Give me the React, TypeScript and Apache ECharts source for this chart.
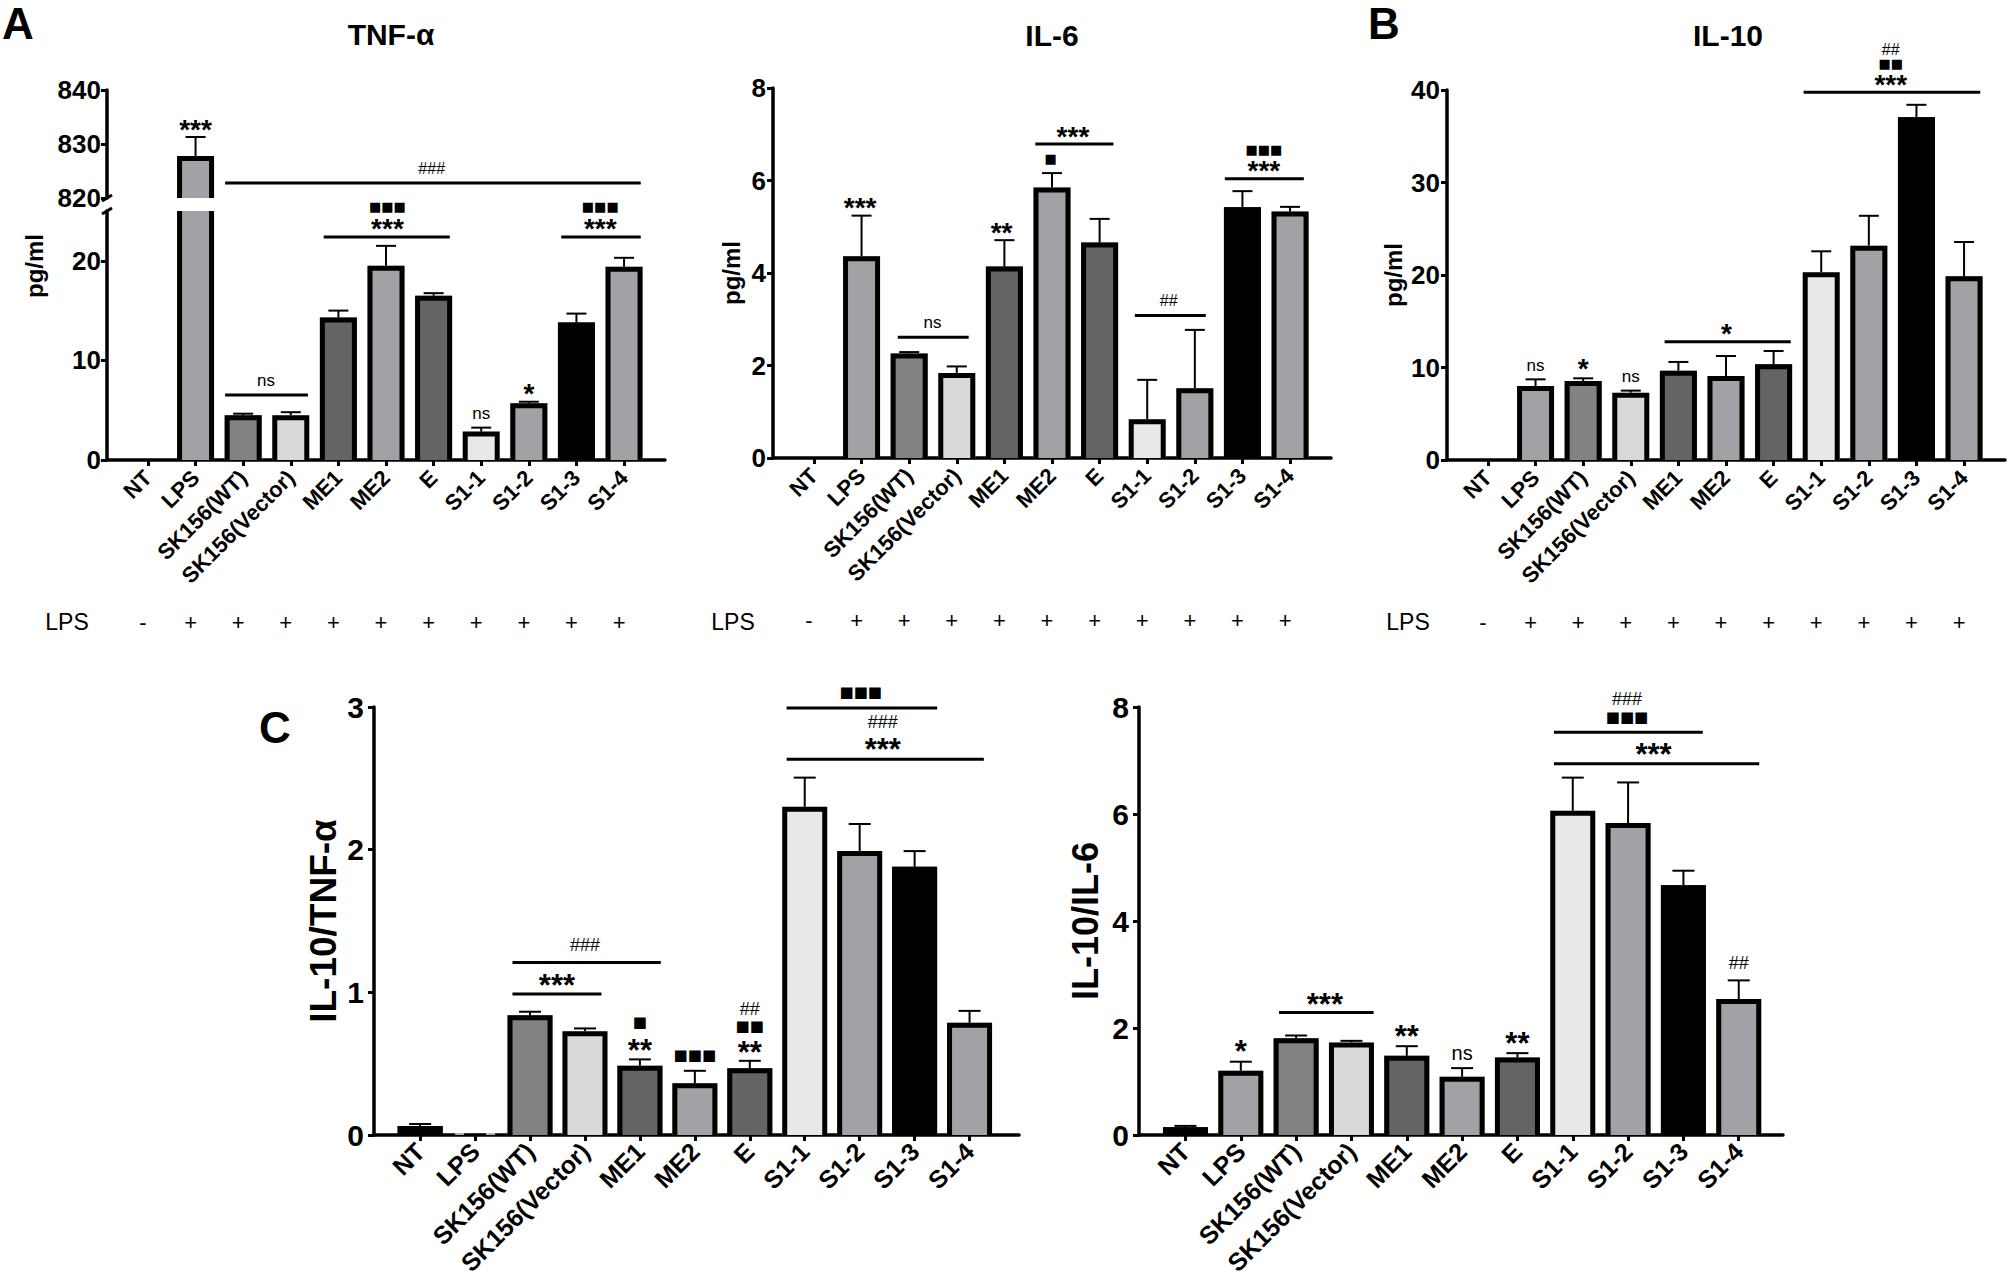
import React, { useEffect, useRef } from "react";
import * as echarts from "echarts";

// ---------------- data ----------------
const categories = ["NT", "LPS", "SK156(WT)", "SK156(Vector)", "ME1", "ME2", "E", "S1-1", "S1-2", "S1-3", "S1-4"];
const lpsSigns = ["-", "+", "+", "+", "+", "+", "+", "+", "+", "+", "+"];

const tnfMean = [0, 827.8, 4.5, 4.5, 14.3, 19.5, 16.5, 2.85, 5.7, 13.8, 19.4];
const tnfUpper = [0, 831.3, 4.65, 4.8, 15.0, 21.5, 16.75, 3.25, 5.85, 14.7, 20.3];

const il6Mean = [0, 4.36, 2.26, 1.84, 4.14, 5.85, 4.66, 0.84, 1.51, 5.42, 5.33];
const il6Upper = [0, 5.24, 2.29, 1.98, 4.71, 6.16, 5.17, 1.69, 2.77, 5.77, 5.43];

const il10Mean = [0, 8.0, 8.54, 7.28, 9.66, 9.08, 10.34, 20.3, 23.17, 37.05, 19.86];
const il10Upper = [0, 8.72, 8.83, 7.5, 10.6, 11.24, 11.78, 22.56, 26.4, 38.4, 23.57];

const ratioTnfMean = [0.063, 0.004, 0.84, 0.728, 0.486, 0.362, 0.467, 2.3, 1.99, 1.88, 0.787];
const ratioTnfUpper = [0.077, 0.005, 0.864, 0.747, 0.53, 0.45, 0.52, 2.505, 2.18, 1.99, 0.87];

const ratioIl6Mean = [0.143, 1.2, 1.81, 1.73, 1.48, 1.09, 1.45, 6.06, 5.83, 4.67, 2.54];
const ratioIl6Upper = [0.17, 1.37, 1.86, 1.76, 1.66, 1.25, 1.53, 6.68, 6.59, 4.94, 2.89];

// significance brackets: [fromCategory, toCategory, y]
const tnfLowBrackets = [[1.62, 3.36, 6.53], [3.69, 6.34, 22.4], [8.68, 10.35, 22.4]];
const tnfHighBrackets = [[1.62, 10.35, 822.8]];
const il6Brackets = [[1.76, 3.25, 2.61], [4.65, 6.29, 6.79], [6.74, 8.23, 3.08], [8.63, 10.29, 6.04]];
const il10Brackets = [[3.71, 6.36, 12.79], [6.63, 10.34, 39.75]];
const ratioTnfBrackets = [[1.68, 4.38, 1.209], [1.68, 3.3, 0.988], [6.67, 9.41, 2.993], [6.67, 10.26, 2.634]];
const ratioIl6Brackets = [[1.69, 3.4, 2.29], [6.66, 9.35, 7.53], [6.66, 10.37, 6.94]];

// significance marks: [category, y, text]
const tnfLowMarks: [number, number, string][] = [
  [2.48, 8.0, "ns"], [5.03, 23.85, "***"], [5.03, 25.5, "■■■"],
  [9.5, 23.85, "***"], [9.5, 25.5, "■■■"], [7, 4.69, "ns"], [8, 7.2, "*"],
];
const tnfHighMarks: [number, number, string][] = [[1, 833.8, "***"], [5.96, 825.5, "###"]];
const il6Marks: [number, number, string][] = [
  [0.97, 5.53, "***"], [2.49, 2.93, "ns"], [3.94, 5.0, "**"], [4.97, 6.47, "■"],
  [5.44, 7.08, "***"], [7.45, 3.4, "##"], [9.45, 6.33, "***"], [9.45, 6.67, "■■■"],
];
const il10Marks: [number, number, string][] = [
  [1, 10.2, "ns"], [2, 10.45, "*"], [3, 9.08, "ns"], [5.01, 14.23, "*"],
  [8.46, 41.2, "***"], [8.46, 42.9, "■■"], [8.46, 44.4, "##"],
];
const ratioTnfMarks: [number, number, string][] = [
  [3.0, 1.33, "###"], [2.49, 1.09, "***"], [4, 0.79, "■"], [4, 0.635, "**"],
  [5, 0.56, "■■■"], [6, 0.885, "##"], [6, 0.765, "■■"], [6, 0.62, "**"],
  [8.02, 3.105, "■■■"], [8.42, 2.895, "###"], [8.42, 2.743, "***"],
];
const ratioIl6Marks: [number, number, string][] = [
  [7.98, 8.15, "###"], [7.98, 7.82, "■■■"], [8.46, 7.23, "***"],
  [2.52, 2.56, "***"], [1, 1.68, "*"], [4, 1.96, "**"], [5, 1.54, "ns"],
  [6, 1.82, "**"], [10, 3.22, "##"],
];

// ---------------- styles ----------------
const barColors = ["#000000", "#A2A2A6", "#828282", "#D9D9D9", "#646464", "#A2A2A6", "#646464", "#E8E8E8", "#A2A2A6", "#000000", "#A2A2A6"];
const FONT = "'Liberation Sans', Arial, Helvetica, sans-serif";
const catIdx = categories.map((_, i) => i);

function barRender(w: number, bw: number) {
  return (params: any, api: any) => {
    const x = api.value(0);
    const v = api.value(1);
    const cs = params.coordSys;
    const p = api.coord([x, v]);
    const b = api.coord([x, 0]);
    const top = cs.y;
    const bottom = cs.y + cs.height;
    let yT = p[1];
    let yB = b[1];
    const topClipped = yT < top;
    yT = Math.max(yT, top);
    yB = Math.min(yB, bottom);
    const h = yB - yT;
    if (!(h > 0.2)) return null;
    const l = p[0] - w / 2;
    const r = p[0] + w / 2;
    const fill = barColors[params.dataIndex];
    if (h < bw && fill !== "#000000") {
      return { type: "rect", shape: { x: l + bw / 2, y: yB - 2, width: w - bw, height: 2 }, style: { fill: "#B0B0B0" } };
    }
    const i = bw / 2;
    const children: any[] = [{ type: "rect", shape: { x: l, y: yT, width: w, height: h }, style: { fill } }];
    if (topClipped) {
      children.push({ type: "line", shape: { x1: l + i, y1: yT, x2: l + i, y2: yB }, style: { stroke: "#000", lineWidth: bw } });
      children.push({ type: "line", shape: { x1: r - i, y1: yT, x2: r - i, y2: yB }, style: { stroke: "#000", lineWidth: bw } });
    } else {
      children.push({
        type: "polyline",
        shape: { points: [[l + i, yB], [l + i, yT + i], [r - i, yT + i], [r - i, yB]] },
        style: { stroke: "#000", lineWidth: bw, fill: "none", lineJoin: "miter" },
      });
    }
    return { type: "group", children };
  };
}

function errRender(cap: number) {
  return (params: any, api: any) => {
    const x = api.value(0);
    const m = api.value(1);
    const u = api.value(2);
    if (m === 0 && u === 0) return null;
    const cs = params.coordSys;
    const p1 = api.coord([x, m]);
    const p2 = api.coord([x, u]);
    if (p1[1] < cs.y - 0.5 || p1[1] > cs.y + cs.height + 0.5) return null;
    const st = { stroke: "#000", lineWidth: 2 };
    return {
      type: "group",
      children: [
        { type: "line", shape: { x1: p1[0], y1: p1[1], x2: p1[0], y2: p2[1] }, style: st },
        { type: "line", shape: { x1: p1[0] - cap / 2, y1: p2[1], x2: p1[0] + cap / 2, y2: p2[1] }, style: st },
      ],
    };
  };
}

function bracketRender(params: any, api: any) {
  const p1 = api.coord([api.value(0), api.value(2)]);
  const p2 = api.coord([api.value(1), api.value(2)]);
  return { type: "line", shape: { x1: p1[0], y1: p1[1], x2: p2[0], y2: p2[1] }, style: { stroke: "#000", lineWidth: 3 } };
}

function markRender(marks: [number, number, string][], big: boolean) {
  return (params: any, api: any) => {
    const t = marks[params.dataIndex][2];
    const p = api.coord([api.value(0), api.value(1)]);
    let fontSize = 16;
    let fontWeight: any = "normal";
    let fontFamily = FONT;
    let dy = 0;
    if (t.indexOf("*") >= 0) {
      fontSize = big ? 31 : 28;
      fontWeight = "bold";
      dy = 0.2 * fontSize;
    } else if (t.indexOf("■") >= 0) {
      fontSize = big ? 15 : 13;
      fontFamily = "'DejaVu Sans', sans-serif";
    } else if (t.indexOf("#") >= 0) {
      fontSize = big ? 18 : 16;
    } else {
      fontSize = big ? 20 : 17;
    }
    return {
      type: "text",
      x: p[0],
      y: p[1] + dy,
      style: { text: t, fill: "#000", fontSize, fontWeight, fontFamily, align: "center", verticalAlign: "middle" },
    };
  };
}

function xCatAxis(gridIndex: number, min: number, max: number, fontSize: number, margin: number) {
  return {
    type: "value", gridIndex, min, max, position: "bottom",
    axisLine: { show: true, onZero: false, lineStyle: { color: "#000", width: 3.5 } },
    axisTick: { show: true, length: 6, customValues: catIdx, lineStyle: { color: "#000", width: 3 } },
    axisLabel: {
      customValues: catIdx, rotate: 45, margin,
      formatter: (v: number) => categories[Math.round(v)] ?? "",
      fontSize, fontWeight: "bold", color: "#000", fontFamily: FONT,
    },
    splitLine: { show: false },
  };
}

function xLpsAxis(gridIndex: number, min: number, max: number) {
  return {
    type: "value", gridIndex, min, max, position: "bottom", offset: 149,
    axisLine: { show: false }, axisTick: { show: false },
    axisLabel: {
      customValues: catIdx, margin: 2, padding: [0, 10, 0, 0],
      formatter: (v: number) => lpsSigns[Math.round(v)] ?? "",
      fontSize: 22, color: "#000", fontFamily: FONT,
    },
    splitLine: { show: false },
  };
}

function yAx(gridIndex: number, min: number, max: number, interval: number | undefined, fontSize: number, margin: number, extra: any = {}) {
  const base: any = {
    type: "value", gridIndex, min, max,
    axisLine: { show: true, onZero: false, lineStyle: { color: "#000", width: 3.5 } },
    axisTick: { show: true, length: 6, lineStyle: { color: "#000", width: 3 } },
    axisLabel: { fontSize, fontWeight: "bold", color: "#000", margin, fontFamily: FONT },
    splitLine: { show: false },
  };
  if (interval !== undefined) base.interval = interval;
  return { ...base, ...extra, axisLabel: { ...base.axisLabel, ...(extra.axisLabel || {}) }, axisTick: { ...base.axisTick, ...(extra.axisTick || {}) } };
}

function panelSeries(xi: number, yi: number, mean: number[], upper: number[], brackets: number[][], marks: [number, number, string][], big: boolean) {
  const w = big ? 45 : 37;
  const out: any[] = [
    { type: "custom", xAxisIndex: xi, yAxisIndex: yi, renderItem: barRender(w, 5), encode: { x: 0, y: 1 }, data: mean.map((v, i) => [i, v]), z: 2, silent: true },
    { type: "custom", xAxisIndex: xi, yAxisIndex: yi, renderItem: errRender(big ? 22 : 20), encode: { x: 0, y: [1, 2] }, data: mean.map((v, i) => [i, v, upper[i]]), z: 3, silent: true },
  ];
  if (brackets.length) out.push({ type: "custom", xAxisIndex: xi, yAxisIndex: yi, renderItem: bracketRender, encode: { x: [0, 1], y: 2 }, data: brackets, z: 4, silent: true });
  if (marks.length) out.push({ type: "custom", xAxisIndex: xi, yAxisIndex: yi, renderItem: markRender(marks, big), encode: { x: 0, y: 1 }, data: marks.map((m) => [m[0], m[1]]), z: 4, silent: true });
  return out;
}

const TOP_MIN = -0.86;
const TOP_MAX = 10.86;

function buildOption() {
  const name = (text: string, gap: number, size: number) => ({
    name: text, nameLocation: "middle", nameGap: gap,
    nameTextStyle: { fontSize: size, fontWeight: "bold", color: "#000", fontFamily: FONT },
  });
  const txt = (text: string, x: number, y: number, size: number, weight = "bold", rotation = 0) => ({
    type: "text", x, y, rotation,
    style: { text, fontSize: size, fontWeight: weight, fontFamily: FONT, fill: "#000", align: "center", verticalAlign: "middle" },
  });
  return {
    animation: false,
    backgroundColor: "#fff",
    textStyle: { fontFamily: FONT },
    grid: [
      { left: 107, top: 90, width: 558, height: 108, outerBoundsMode: "none" },
      { left: 107, top: 211, width: 558, height: 249, outerBoundsMode: "none" },
      { left: 773, top: 88, width: 558, height: 370, outerBoundsMode: "none" },
      { left: 1447, top: 90, width: 558, height: 370, outerBoundsMode: "none" },
      { left: 374, top: 707, width: 645, height: 428, outerBoundsMode: "none" },
      { left: 1139, top: 707, width: 644, height: 428, outerBoundsMode: "none" },
    ],
    xAxis: [
      { type: "value", gridIndex: 0, min: TOP_MIN, max: TOP_MAX, show: false },
      xCatAxis(1, TOP_MIN, TOP_MAX, 22, 14),
      xLpsAxis(1, TOP_MIN, TOP_MAX),
      xCatAxis(2, TOP_MIN, TOP_MAX, 22, 14),
      xLpsAxis(2, TOP_MIN, TOP_MAX),
      xCatAxis(3, TOP_MIN, TOP_MAX, 22, 14),
      xLpsAxis(3, TOP_MIN, TOP_MAX),
      xCatAxis(4, -0.84, 10.9, 25, 12),
      xCatAxis(5, -0.84, 10.8, 25, 12),
    ],
    yAxis: [
      yAx(0, 820, 840, 10, 26, 6),
      yAx(1, 0, 25, undefined, 26, 6, { axisLabel: { customValues: [0, 10, 20] }, axisTick: { customValues: [0, 10, 20] } }),
      yAx(2, 0, 8, 2, 26, 7, name("pg/ml", 30, 24)),
      yAx(3, 0, 40, 10, 26, 7, name("pg/ml", 42, 24)),
      yAx(4, 0, 3, 1, 30, 10, name("IL-10/TNF-α", 32, 37)),
      yAx(5, 0, 8, 2, 30, 10, name("IL-10/IL-6", 36, 36)),
    ],
    series: [
      ...panelSeries(0, 0, tnfMean, tnfUpper, tnfHighBrackets, tnfHighMarks, false),
      ...panelSeries(1, 1, tnfMean, tnfUpper, tnfLowBrackets, tnfLowMarks, false),
      ...panelSeries(3, 2, il6Mean, il6Upper, il6Brackets, il6Marks, false),
      ...panelSeries(5, 3, il10Mean, il10Upper, il10Brackets, il10Marks, false),
      ...panelSeries(7, 4, ratioTnfMean, ratioTnfUpper, ratioTnfBrackets, ratioTnfMarks, true),
      ...panelSeries(8, 5, ratioIl6Mean, ratioIl6Upper, ratioIl6Brackets, ratioIl6Marks, true),
    ],
    graphic: [
      txt("A", 18, 23, 44),
      txt("B", 1384, 23, 44),
      txt("C", 275, 727, 44),
      txt("TNF-α", 391, 34, 30),
      txt("IL-6", 1052, 35, 30),
      txt("IL-10", 1728, 35, 30),
      txt("pg/ml", 34, 266, 24, "bold", Math.PI / 2),
      txt("LPS", 67, 622, 23, "normal"),
      txt("LPS", 733, 622, 23, "normal"),
      txt("LPS", 1408, 622, 23, "normal"),
      { type: "line", shape: { x1: 102, y1: 201, x2: 112, y2: 195 }, style: { stroke: "#000", lineWidth: 3 } },
      { type: "line", shape: { x1: 102, y1: 214, x2: 112, y2: 208 }, style: { stroke: "#000", lineWidth: 3 } },
    ],
  };
}

export default function App() {
  const ref = useRef<HTMLDivElement>(null);
  useEffect(() => {
    if (!ref.current) return;
    const chart = echarts.init(ref.current, undefined, { renderer: "svg", width: 2008, height: 1283 });
    chart.setOption(buildOption() as any);
    return () => chart.dispose();
  }, []);
  return <div ref={ref} style={{ position: "fixed", left: 0, top: 0, width: 2008, height: 1283, background: "#fff" }} />;
}
